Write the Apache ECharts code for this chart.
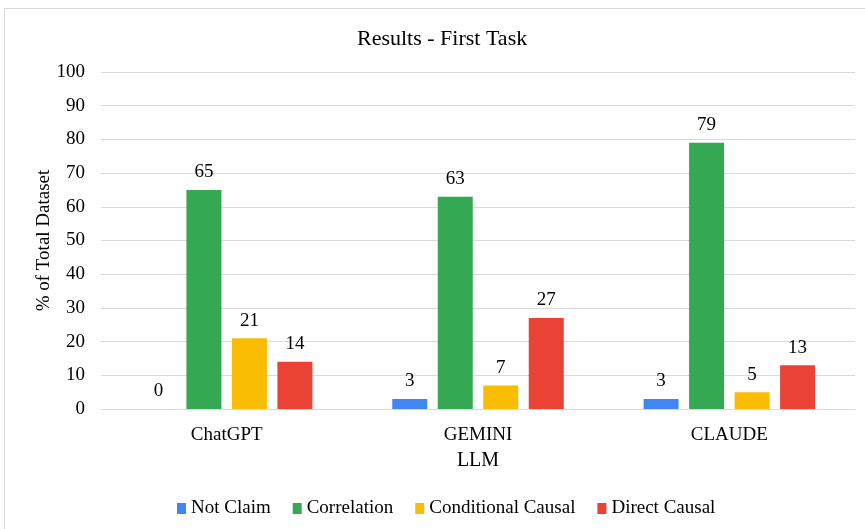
<!DOCTYPE html>
<html>
<head>
<meta charset="utf-8">
<script src="https://cdn.jsdelivr.net/npm/echarts@6/dist/echarts.min.js"></script>
<style>
html, body { margin: 0; padding: 0; background: #fff; }
#frame { position: absolute; left: 4px; top: 8px; width: 900px; height: 600px; border: 1px solid #d9d9d9; box-sizing: border-box; }
#chart_1 { position: absolute; left: 0; top: 0; width: 865px; height: 529px; }
</style>
</head>
<body>
<div id="frame"></div>
<div id="chart_1"></div>
<script>
// 数据
var categories = ['ChatGPT', 'GEMINI', 'CLAUDE'];
var seriesNames = ['Not Claim', 'Correlation', 'Conditional Causal', 'Direct Causal'];
var notClaim = [0, 3, 3];
var correlation = [65, 63, 79];
var conditionalCausal = [21, 7, 5];
var directCausal = [14, 27, 13];
var colorList = ['#4285F4', '#34A853', '#FBBC04', '#EA4335'];

var font = 'Liberation Serif, Times New Roman, serif';

function makeSeries(name, data, color) {
	return {
		name: name,
		type: 'bar',
		barWidth: 35,
		barGap: '30%',
		itemStyle: { color: color },
		label: {
			show: true,
			position: 'top',
			distance: 8,
			color: '#000',
			fontFamily: font,
			fontSize: 19
		},
		data: data
	};
}

var option = {
	animation: false,
	title: {
		text: 'Results - First Task',
		left: 352,
		top: 23,
		textStyle: { fontFamily: font, fontSize: 22, fontWeight: 'normal', color: '#000' }
	},
	legend: {
		bottom: 6,
		left: 172,
		icon: 'rect',
		itemWidth: 9,
		itemHeight: 11,
		itemGap: 22,
		textStyle: { fontFamily: font, fontSize: 19, color: '#000' },
		data: seriesNames
	},
	grid: { left: 101, right: 10, top: 72, bottom: 120 },
	xAxis: {
		type: 'category',
		data: categories,
		name: 'LLM',
		nameLocation: 'middle',
		nameGap: 42,
		nameTextStyle: { fontFamily: font, fontSize: 20, color: '#000' },
		axisTick: { show: false },
		axisLine: { lineStyle: { color: '#d9d9d9', width: 1 } },
		axisLabel: { fontFamily: font, fontSize: 19, color: '#000', margin: 17 }
	},
	yAxis: {
		type: 'value',
		min: 0,
		max: 100,
		interval: 10,
		name: '% of Total Dataset',
		nameLocation: 'middle',
		nameGap: 47,
		nameMoveOverlap: false,
		nameTextStyle: { fontFamily: font, fontSize: 19, color: '#000' },
		axisLine: { show: false },
		axisTick: { show: false },
		splitLine: { lineStyle: { color: '#d9d9d9', width: 1 } },
		axisLabel: { fontFamily: font, fontSize: 19, color: '#000', margin: 16 }
	},
	series: [
		makeSeries(seriesNames[0], notClaim, colorList[0]),
		makeSeries(seriesNames[1], correlation, colorList[1]),
		makeSeries(seriesNames[2], conditionalCausal, colorList[2]),
		makeSeries(seriesNames[3], directCausal, colorList[3])
	]
};

var myChart = echarts.init(document.getElementById('chart_1'));
myChart.setOption(option);
</script>
</body>
</html>
